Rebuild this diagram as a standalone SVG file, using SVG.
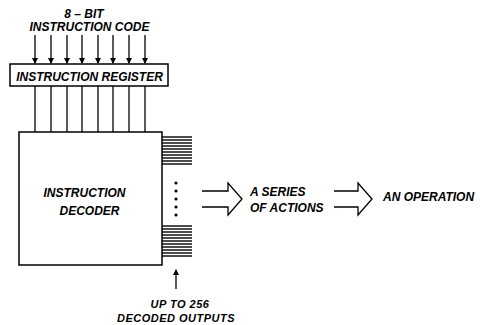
<svg xmlns="http://www.w3.org/2000/svg" width="480" height="325" viewBox="0 0 480 325">
<style>
.t{font-family:"Liberation Sans",Arial,sans-serif;font-size:12px;font-weight:bold;font-style:italic;fill:#000}
.s{font-size:11px;letter-spacing:0.5px}
.ln{stroke:#000;stroke-width:1.3;fill:none}
.bx{stroke:#000;stroke-width:1.5;fill:#fff}
.out{stroke:#000;stroke-width:1.4}
</style>
<defs>
<marker id="ah" markerWidth="6" markerHeight="7" refX="5" refY="3.5" orient="auto" markerUnits="userSpaceOnUse">
<path d="M0,0.5 L6,3.5 L0,6.5 Z" fill="#000"/>
</marker>
</defs>
<rect width="480" height="325" fill="#fff"/>
<g id="title">
<text class="t" x="84" y="18" text-anchor="middle">8 – BIT</text>
<text class="t" x="89.5" y="31" text-anchor="middle">INSTRUCTION CODE</text>
</g>
<g id="connectors">
<g class="ln" marker-end="url(#ah)">
<line x1="35" y1="35" x2="35" y2="63"/>
<line x1="51" y1="35" x2="51" y2="63"/>
<line x1="67" y1="35" x2="67" y2="63"/>
<line x1="82" y1="35" x2="82" y2="63"/>
<line x1="98" y1="35" x2="98" y2="63"/>
<line x1="113" y1="35" x2="113" y2="63"/>
<line x1="129" y1="35" x2="129" y2="63"/>
<line x1="145" y1="35" x2="145" y2="63"/>
</g>
<g class="ln">
<line x1="35" y1="86" x2="35" y2="132"/>
<line x1="51" y1="86" x2="51" y2="132"/>
<line x1="67" y1="86" x2="67" y2="132"/>
<line x1="82" y1="86" x2="82" y2="132"/>
<line x1="98" y1="86" x2="98" y2="132"/>
<line x1="113" y1="86" x2="113" y2="132"/>
<line x1="129" y1="86" x2="129" y2="132"/>
<line x1="145" y1="86" x2="145" y2="132"/>
</g>
<g class="out">
<line x1="162" y1="137" x2="192" y2="137"/>
<line x1="162" y1="140" x2="192" y2="140"/>
<line x1="162" y1="143" x2="192" y2="143"/>
<line x1="162" y1="146" x2="192" y2="146"/>
<line x1="162" y1="149" x2="192" y2="149"/>
<line x1="162" y1="152" x2="192" y2="152"/>
<line x1="162" y1="155" x2="192" y2="155"/>
<line x1="162" y1="158" x2="192" y2="158"/>
<line x1="162" y1="161" x2="192" y2="161"/>
<line x1="162" y1="164" x2="192" y2="164"/>
<line x1="162" y1="226" x2="192" y2="226"/>
<line x1="162" y1="229" x2="192" y2="229"/>
<line x1="162" y1="232" x2="192" y2="232"/>
<line x1="162" y1="235" x2="192" y2="235"/>
<line x1="162" y1="238" x2="192" y2="238"/>
<line x1="162" y1="241" x2="192" y2="241"/>
<line x1="162" y1="244" x2="192" y2="244"/>
<line x1="162" y1="247" x2="192" y2="247"/>
<line x1="162" y1="250" x2="192" y2="250"/>
<line x1="162" y1="253" x2="192" y2="253"/>
<line x1="162" y1="256" x2="192" y2="256"/>
</g>
<g fill="#000">
<circle cx="176" cy="183" r="1.6"/>
<circle cx="176" cy="191" r="1.6"/>
<circle cx="176" cy="199" r="1.6"/>
<circle cx="176" cy="207" r="1.6"/>
<circle cx="176" cy="215" r="1.6"/>
</g>
<line class="ln" x1="176" y1="289" x2="176" y2="270" marker-end="url(#ah)"/>
<path class="ln" d="M202,191 H228 V183 L242,199 L228,215 V207 H202"/>
<path class="ln" d="M334,191 H358 V183 L372,199 L358,215 V207 H334"/>
</g>
<g id="register">
<rect class="bx" x="10" y="64" width="158" height="22"/>
<text class="t" x="89.5" y="81" text-anchor="middle">INSTRUCTION REGISTER</text>
</g>
<g id="decoder">
<rect class="bx" x="19" y="132" width="143" height="133"/>
<text class="t" x="84.5" y="197" text-anchor="middle">INSTRUCTION</text>
<text class="t" x="89.5" y="215" text-anchor="middle">DECODER</text>
</g>
<g id="outputs-label">
<text class="t s" x="180" y="308" text-anchor="middle">UP TO 256</text>
<text class="t s" x="176" y="322" text-anchor="middle">DECODED OUTPUTS</text>
</g>
<g id="actions">
<text class="t" x="250" y="196">A SERIES</text>
<text class="t" x="250" y="212">OF ACTIONS</text>
</g>
<g id="operation">
<text class="t" x="383" y="201">AN OPERATION</text>
</g>
</svg>
